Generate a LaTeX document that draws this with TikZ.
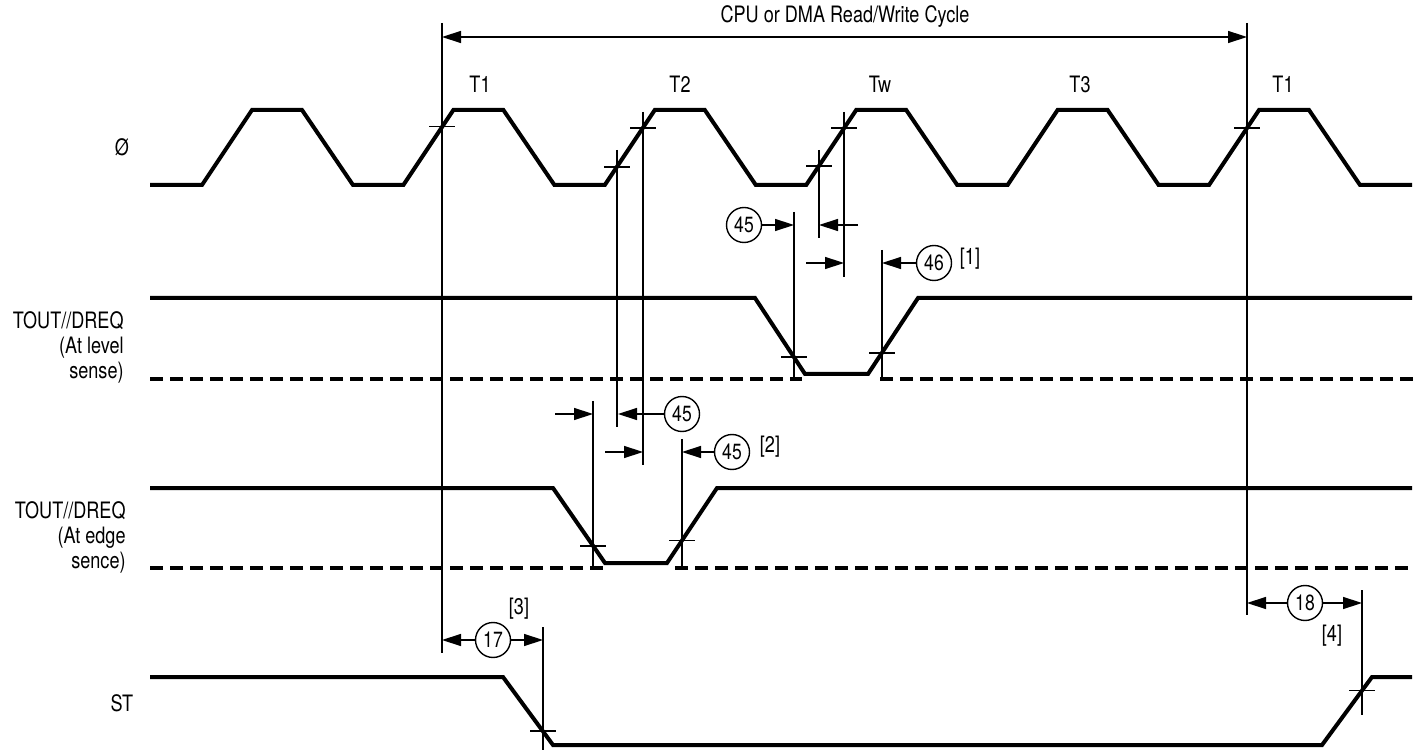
\documentclass[tikz,border=0pt]{standalone}
\usepackage{fontspec}
\setmainfont{TeX Gyre Heros}[FakeStretch=0.8]
\usetikzlibrary{arrows.meta,positioning}
\tikzstyle{signal} = [line width=2pt, line join=miter]
\tikzstyle{floatline} = [line width=2pt, dash pattern=on 6.5pt off 3.5pt]
\tikzstyle{guide} = [line width=0.7pt]
\tikzstyle{timing} = [line width=0.7pt, -{Triangle[length=9.5pt,width=6pt]}]
\tikzstyle{span} = [line width=0.7pt, {Triangle[length=9.5pt,width=6pt]}-{Triangle[length=9.5pt,width=6pt]}]
\tikzstyle{param} = [draw, circle, line width=0.7pt, minimum size=17.5pt, inner sep=0pt, font=\fontsize{11}{12}\selectfont]
\tikzstyle{lbl} = [font=\fontsize{11.3}{12.5}\selectfont, inner sep=0pt]

\begin{document}
\begin{tikzpicture}[x=0.5pt, y=-0.5pt]

	\useasboundingbox (0,0) rectangle (1424,753);

	% signal names
	\node[lbl] (clk) at (122,147) {Ø};
	\node[lbl, align=right, anchor=east] (lvl) at (124,347) {TOUT//DREQ\\(At level\\sense)};
	\node[lbl, align=right, anchor=east] (edg) at (126,537) {TOUT//DREQ\\(At edge\\sence)};
	\node[lbl] (st) at (122,703) {ST};

	% states
	\foreach \x/\t in {480/T1, 680/T2, 880/Tw, 1080/T3, 1283/T1}
		\node[lbl] (s\x) at (\x,84) {\t};

	% waveforms
	\draw[signal] (150,185) \foreach \k in {0,...,5} {
		-- ({202+201.4*\k},185) -- ({252+201.4*\k},110)
		-- ({302+201.4*\k},110) -- ({353+201.4*\k},185) } -- (1412,185);
	\draw[signal] (150,298) -- (755,298) -- (805,374) -- (868,374) -- (918,298) -- (1412,298);
	\draw[floatline] (150,379) -- (802,379) (880,379) -- (1415,379);
	\draw[signal] (150,488) -- (553,488) -- (605,563) -- (667,563) -- (717,488) -- (1412,488);
	\draw[floatline] (150,568) -- (610,568) (675,568) -- (1415,568);
	\draw[signal] (150,677) -- (503,677) -- (553,745) -- (1322,745) -- (1372,677) -- (1412,677);

	% reference lines
	\foreach \x/\a/\b in {442/23/653, 1247/23/615, 617/150/427, 643/112/465,
		819/150/238, 844/112/277, 794/212/379, 882/250/379,
		593/401/568, 682/439/568, 543/627/750, 1362/590/715}
		\draw[guide] (\x,\a) -- (\x,\b);
	\foreach \x/\y in {442/126.5, 617/167, 643/128, 819/166, 844/128, 1247/128,
		794/357, 882/353, 593/546, 682/540.5, 543/731, 1362/690.6}
		\draw[guide] (\x-13,\y) -- (\x+13,\y);

	% cycle
	\coordinate (cycL) at (442,37);
	\coordinate (cycR) at (1247,37);
	\draw[span] (cycL) -- (cycR);
	\node[lbl] (cyc) at (845,17) {CPU or DMA Read/Write Cycle};

	% level sense timing
	\node[param] (p45a) at (744,225) {45};
	\coordinate (t45a) at (794,225);
	\draw[timing] (p45a) -- (t45a);
	\coordinate (w1s) at (858,225);
	\coordinate (w1e) at (819,225);
	\draw[timing] (w1s) -- (w1e);
	\coordinate (w2s) at (806,263);
	\coordinate (w2e) at (844,263);
	\draw[timing] (w2s) -- (w2e);
	\node[param] (p46) at (934,263) {46};
	\coordinate (t46) at (882,263);
	\draw[timing] (p46) -- (t46);
	\node[lbl] (n1) at (970,259) {[1]};

	% edge sense timing
	\node[param] (p45b) at (682,414) {45};
	\coordinate (t45b) at (618,414);
	\draw[timing] (p45b) -- (t45b);
	\coordinate (e1s) at (555,414);
	\coordinate (e1e) at (593,414);
	\draw[timing] (e1s) -- (e1e);
	\coordinate (e2s) at (605,452);
	\coordinate (e2e) at (643,452);
	\draw[timing] (e2s) -- (e2e);
	\node[param] (p45c) at (732,452) {45};
	\coordinate (t45c) at (682,452);
	\draw[timing] (p45c) -- (t45c);
	\node[lbl] (n2) at (770,447) {[2]};

	% ST timing
	\node[param] (p17) at (493,640) {17};
	\coordinate (a17l) at (442,640);
	\coordinate (a17r) at (543,640);
	\draw[timing] (p17) -- (a17l);
	\draw[timing] (p17) -- (a17r);
	\node[lbl] (n3) at (519,609) {[3]};
	\node[param] (p18) at (1305,603) {18};
	\coordinate (a18l) at (1247,603);
	\coordinate (a18r) at (1362,603);
	\draw[timing] (p18) -- (a18l);
	\draw[timing] (p18) -- (a18r);
	\node[lbl] (n4) at (1332,636) {[4]};

\end{tikzpicture}
\end{document}
